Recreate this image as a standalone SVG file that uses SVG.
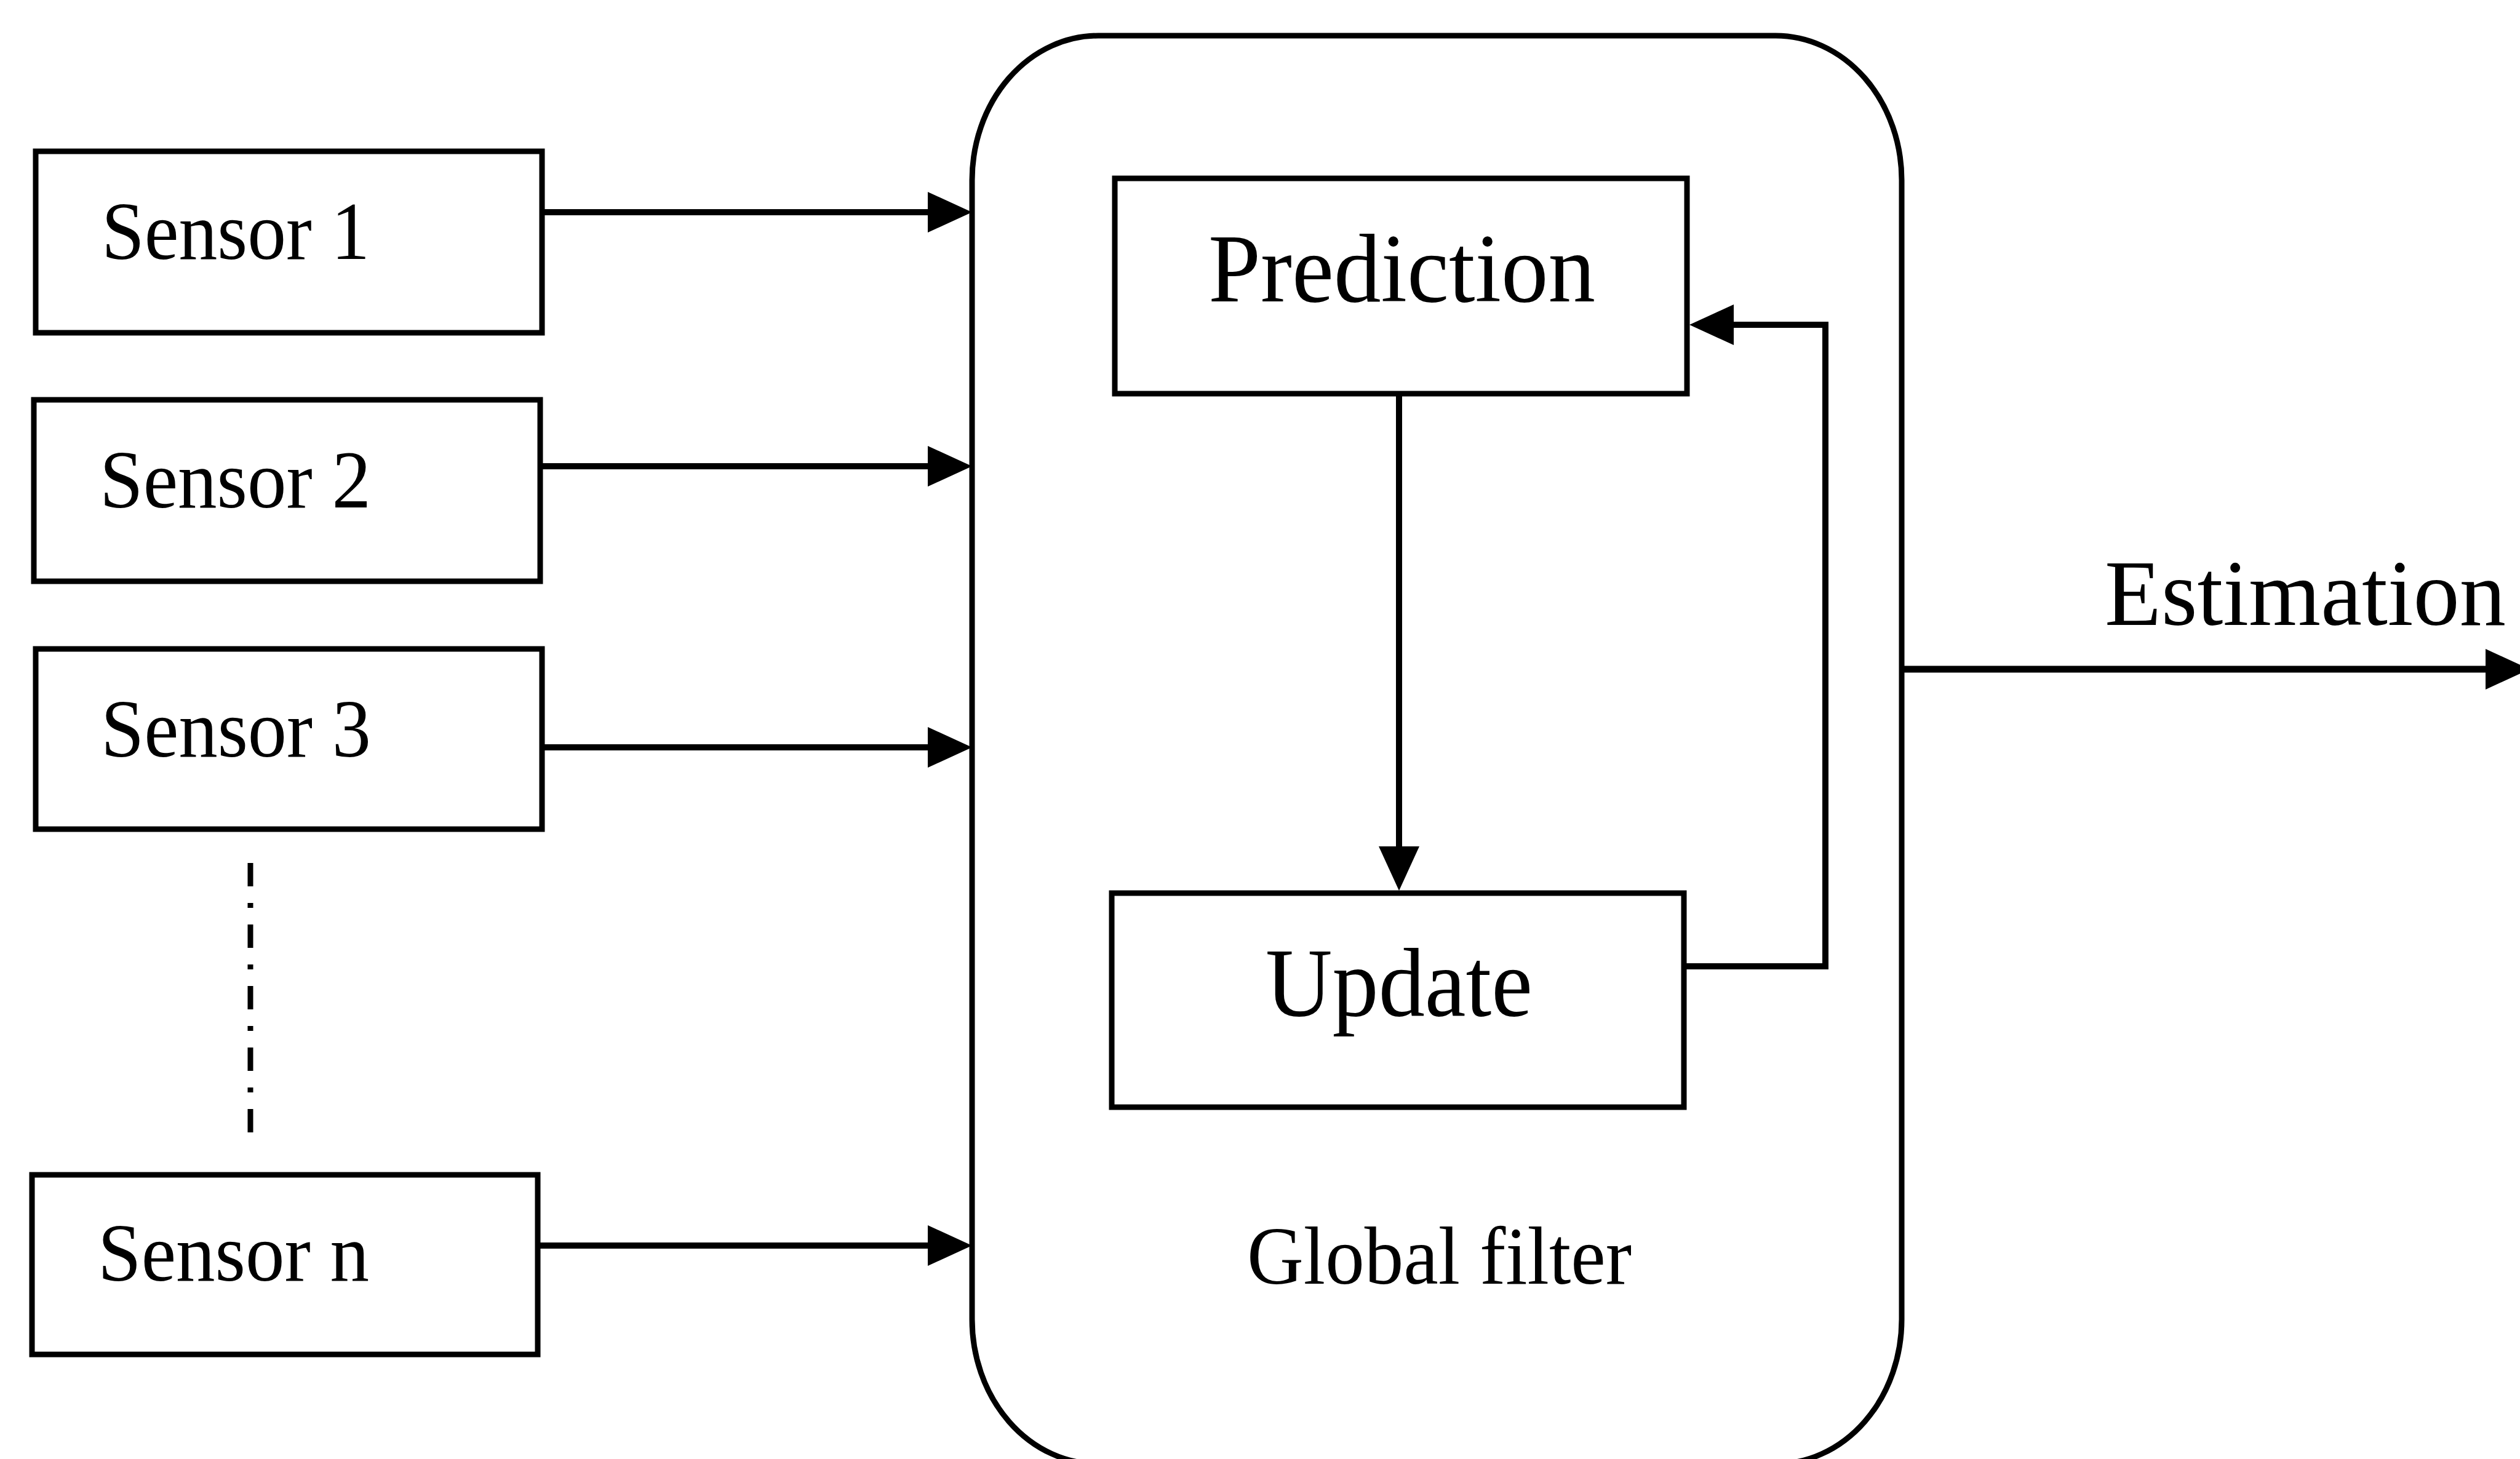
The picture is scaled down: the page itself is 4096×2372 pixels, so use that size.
<svg xmlns="http://www.w3.org/2000/svg" width="4096" height="2372" viewBox="0 0 4096 2372">
<style>
.box{fill:#fff;stroke:#000;stroke-width:9}
.frame{fill:none;stroke:#000;stroke-width:9}
.lbl{font-family:"Liberation Serif","Times New Roman",serif;fill:#000}
.con{fill:none;stroke:#000;stroke-width:10}
.dots{fill:none;stroke:#000;stroke-width:9;stroke-dasharray:38 27 8 27}
</style>
<defs>
<marker id="ah" markerUnits="userSpaceOnUse" markerWidth="72" markerHeight="66" refX="60" refY="33" orient="auto" viewBox="0 0 72 66">
<path d="M0,0 L72,33 L0,66 Z" fill="#000"/>
</marker>
</defs>
<rect width="4096" height="2372" fill="#fff"/>
<g id="global-filter">
<rect class="frame" x="1580" y="58" width="1511" height="2322" rx="205" ry="235"/>
<text class="lbl" x="2027" y="2087" font-size="134" textLength="625" lengthAdjust="spacingAndGlyphs">Global filter</text>
</g>
<g id="sensor1">
<rect class="box" x="58" y="246" width="823" height="295"/>
<text class="lbl" x="165" y="421" font-size="134" textLength="436" lengthAdjust="spacingAndGlyphs">Sensor 1</text>
</g>
<g id="sensor2">
<rect class="box" x="55" y="650" width="823" height="295"/>
<text class="lbl" x="162" y="825" font-size="134" textLength="441" lengthAdjust="spacingAndGlyphs">Sensor 2</text>
</g>
<g id="sensor3">
<rect class="box" x="58" y="1055" width="823" height="293"/>
<text class="lbl" x="164" y="1230" font-size="134" textLength="439" lengthAdjust="spacingAndGlyphs">Sensor 3</text>
</g>
<g id="sensorn">
<rect class="box" x="52" y="1910" width="822" height="292"/>
<text class="lbl" x="159" y="2082" font-size="134" textLength="441" lengthAdjust="spacingAndGlyphs">Sensor n</text>
</g>
<g id="prediction">
<rect class="box" x="1812" y="290" width="930" height="350"/>
<text class="lbl" x="1964" y="490" font-size="159" textLength="629" lengthAdjust="spacingAndGlyphs">Prediction</text>
</g>
<g id="update">
<rect class="box" x="1807" y="1452" width="930" height="348"/>
<text class="lbl" x="2057" y="1651" font-size="158" textLength="434" lengthAdjust="spacingAndGlyphs">Update</text>
</g>
<g id="estimation-label">
<text class="lbl" x="3421" y="1016" font-size="153" textLength="652" lengthAdjust="spacingAndGlyphs">Estimation</text>
</g>
<g id="connectors">
<line class="dots" x1="407" y1="1403" x2="407" y2="1855"/>
<path class="con" d="M881,345 H1568" marker-end="url(#ah)"/>
<path class="con" d="M878,758 H1568" marker-end="url(#ah)"/>
<path class="con" d="M881,1215 H1568" marker-end="url(#ah)"/>
<path class="con" d="M874,2025 H1568" marker-end="url(#ah)"/>
<path class="con" d="M2274,640 V1436" marker-end="url(#ah)"/>
<path class="con" d="M2737,1571 H2967 V528 H2758" marker-end="url(#ah)"/>
<path class="con" style="stroke-width:11" d="M3091,1088 H4100" marker-end="url(#ah)"/>
</g>
</svg>
